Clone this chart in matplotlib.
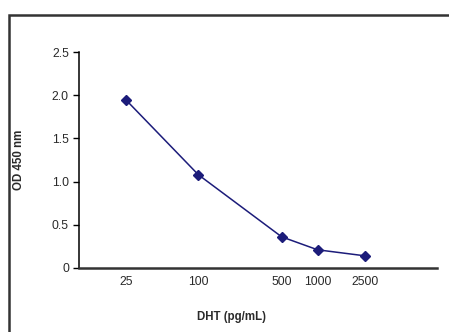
import numpy as np
import matplotlib
matplotlib.use("Agg")
import matplotlib.pyplot as plt
from matplotlib.patches import Rectangle

plt.rcParams['font.family'] = ['Liberation Sans', 'DejaVu Sans']

# --- Data ---
conc = [25, 100, 500, 1000, 2500]          # DHT pg/mL
od = [1.94, 1.08, 0.36, 0.21, 0.14]        # OD 450 nm
x_ticks = [25, 100, 500, 1000, 2500]
x_tick_labels = ["25", "100", "500", "1000", "2500"]
y_ticks = [0, 0.5, 1.0, 1.5, 2.0, 2.5]
y_tick_labels = ["0", "0.5", "1.0", "1.5", "2.0", "2.5"]

navy = "#1c1c7a"
ink = "#2a2a2a"

fig = plt.figure(figsize=(4.49, 3.32), dpi=100)
ax = fig.add_axes([0.176, 0.193, 0.797, 0.650])

# --- outer frame (runs off the right and bottom edge) ---
frame = Rectangle((0.021, -0.1), 1.2, 1.055, transform=fig.transFigure,
                  fill=False, edgecolor="#333333", lw=1.8, clip_on=False)
fig.patches.append(frame)

ax.plot(conc, od, color=navy, lw=1.1, marker="D", ms=4.8,
        markerfacecolor=navy, markeredgecolor=navy)

ax.set_xscale("log")
ax.set_xlim(10, 10000)
ax.set_ylim(0, 2.5)

ax.set_xticks(x_ticks)
ax.set_xticklabels(x_tick_labels)
ax.xaxis.set_minor_locator(matplotlib.ticker.NullLocator())
ax.set_yticks(y_ticks)
ax.set_yticklabels(y_tick_labels)

ax.tick_params(axis="x", length=0, pad=6, labelsize=8.8, labelcolor=ink)
ax.tick_params(axis="y", length=4.3, width=1.0, pad=3.0, labelsize=8.8,
               labelcolor=ink, direction="out")

for s in ["top", "right"]:
    ax.spines[s].set_visible(False)
ax.spines["left"].set_linewidth(1.1)
ax.spines["bottom"].set_linewidth(1.8)
ax.spines["bottom"].set_color("#333333")

ax.set_xlabel("DHT (pg/mL)", fontsize=8.3, fontweight="bold", color=ink)
ax.set_ylabel("OD 450 nm", fontsize=8.3, fontweight="bold", color=ink)
ax.xaxis.set_label_coords(0.427, -0.199)
ax.yaxis.set_label_coords(-0.151, 0.5)

fig.savefig("out.png", dpi=100)
